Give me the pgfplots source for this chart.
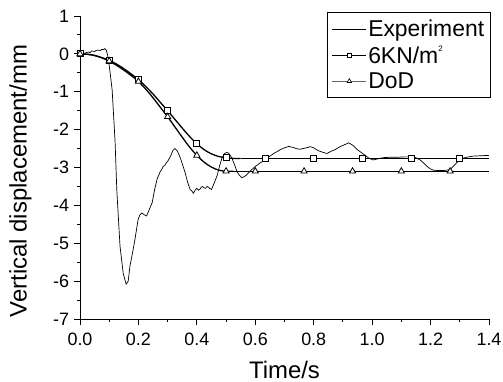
\documentclass[border=0pt]{standalone}
\usepackage{pgfplots}
\pgfplotsset{compat=1.18}
\usepackage{fontspec}
\setmainfont{Liberation Sans}
\begin{document}
\begin{tikzpicture}
\begin{axis}[
  scale only axis,
  width=409bp, height=303bp,
  at={(0,0)}, anchor=south west,
  xmin=0, xmax=1.4, ymin=-7, ymax=1,
  axis x line*=bottom, axis y line*=left,
  axis line style={line width=0.9bp, -},
  tick align=outside,
  major tick length=5.5bp, minor tick length=3bp,
  tick style={line width=0.9bp, black},
  xtick={0,0.2,...,1.4}, minor x tick num=1,
  ytick={-7,-6,...,1}, minor y tick num=1,
  /pgf/number format/assume math mode=true,
  xticklabel style={/pgf/number format/fixed, /pgf/number format/precision=1, /pgf/number format/fixed zerofill, yshift=-5bp},
  yticklabel style={xshift=-2bp},
  ticklabel style={font=\fontsize{18}{20}\selectfont},
  xlabel={Time/s}, ylabel={Vertical displacement/mm},
  label style={font=\fontsize{24}{28}\selectfont},
  xlabel style={at={(axis description cs:0.5,-0.195)}, anchor=base, inner sep=0pt},
  ylabel style={at={(axis description cs:-0.1455,0.455)}, anchor=center, inner sep=0pt},
  legend image code/.code={\draw[mark repeat=2,mark phase=2,#1] plot coordinates {(0bp,0bp) (17bp,0bp) (34bp,0bp)};},
  legend style={at={(axis description cs:1.005,1.013)}, anchor=north east,
    draw=black, line width=0.8bp, inner xsep=5bp, inner ysep=6bp,
    font=\fontsize{23}{26}\selectfont, row sep=5bp,
    nodes={inner sep=1.5bp}},
  legend cell align=left,
]
% Experiment
\addplot[black, line width=0.7bp, forget plot] coordinates {
(0,0.02) (0.01,0.0) (0.02,0.03) (0.03,0.05) (0.035,0.03) (0.04,0.08) (0.05,0.06) (0.055,0.09) (0.06,0.10) (0.07,0.09) (0.075,0.12) (0.08,0.11) (0.085,0.14) (0.09,0.10)
(0.095,-0.05) (0.10,-0.3) (0.11,-0.95) (0.12,-2.3) (0.126,-3.6) (0.137,-5.08) (0.148,-5.8) (0.158,-6.08) (0.165,-6.0) (0.171,-5.6)
(0.18,-5.25) (0.188,-4.9) (0.199,-4.37) (0.205,-4.25) (0.212,-4.2) (0.22,-4.25) (0.228,-4.28) (0.235,-4.15) (0.247,-3.93)
(0.255,-3.6) (0.264,-3.3) (0.27,-3.2) (0.275,-3.1) (0.28,-3.05) (0.285,-2.97) (0.29,-2.95) (0.295,-2.88) (0.30,-2.84) (0.31,-2.7) (0.318,-2.55) (0.325,-2.5)
(0.333,-2.56) (0.342,-2.72) (0.35,-2.9) (0.36,-3.14) (0.368,-3.38) (0.377,-3.58) (0.383,-3.62) (0.388,-3.68) (0.394,-3.6)
(0.40,-3.55) (0.405,-3.6) (0.41,-3.58) (0.415,-3.52) (0.42,-3.5) (0.425,-3.54) (0.43,-3.55) (0.435,-3.5) (0.44,-3.52) (0.445,-3.56) (0.45,-3.58) (0.46,-3.4) (0.47,-3.2)
(0.478,-2.95) (0.486,-2.75) (0.495,-2.63) (0.503,-2.6) (0.51,-2.63) (0.52,-2.75) (0.53,-2.95) (0.537,-3.1) (0.545,-3.2)
(0.554,-3.27) (0.563,-3.24) (0.572,-3.18) (0.58,-3.12) (0.589,-3.05) (0.60,-2.97) (0.608,-2.93) (0.616,-2.88) (0.623,-2.85) (0.63,-2.8) (0.64,-2.76) (0.65,-2.7)
(0.665,-2.62) (0.675,-2.58) (0.685,-2.53) (0.70,-2.48) (0.716,-2.44) (0.723,-2.46) (0.73,-2.47) (0.74,-2.5) (0.753,-2.52) (0.762,-2.5) (0.77,-2.49)
(0.78,-2.47) (0.788,-2.45) (0.80,-2.48) (0.81,-2.53) (0.82,-2.57) (0.832,-2.6) (0.845,-2.63) (0.86,-2.57) (0.875,-2.52)
(0.89,-2.45) (0.905,-2.4) (0.92,-2.35) (0.935,-2.42) (0.948,-2.52) (0.962,-2.6) (0.976,-2.68) (0.99,-2.76) (1.004,-2.8)
(1.02,-2.77) (1.038,-2.74) (1.06,-2.73) (1.085,-2.73) (1.11,-2.72) (1.141,-2.72) (1.152,-2.75) (1.164,-2.8) (1.176,-2.88)
(1.188,-2.97) (1.2,-3.04) (1.21,-3.07) (1.225,-3.08) (1.243,-3.08) (1.255,-3.07) (1.267,-3.05) (1.278,-2.97) (1.29,-2.87)
(1.30,-2.8) (1.313,-2.75) (1.33,-2.72) (1.346,-2.7) (1.37,-2.69) (1.40,-2.68)
};
% 6KN/m2 curve
\addplot[black, line width=1.3bp, smooth, forget plot] coordinates {
(0,0) (0.025,-0.01) (0.05,-0.04) (0.075,-0.10) (0.1,-0.17) (0.125,-0.27) (0.15,-0.39) (0.175,-0.53) (0.2,-0.68)
(0.225,-0.86) (0.25,-1.06) (0.275,-1.28) (0.3,-1.50) (0.325,-1.73) (0.35,-1.96) (0.375,-2.18) (0.4,-2.37)
(0.425,-2.53) (0.45,-2.64) (0.475,-2.71) (0.5,-2.745) (0.525,-2.76) (0.55,-2.76)
};
\addplot[black, line width=1.3bp, forget plot] coordinates {(0.55,-2.76) (1.4,-2.76)};
% DoD curve
\addplot[black, line width=1.3bp, smooth, forget plot] coordinates {
(0,0) (0.025,-0.01) (0.05,-0.045) (0.075,-0.105) (0.1,-0.19) (0.125,-0.30) (0.15,-0.43) (0.175,-0.57) (0.2,-0.73)
(0.225,-0.93) (0.25,-1.16) (0.275,-1.41) (0.3,-1.66) (0.325,-1.93) (0.35,-2.20) (0.375,-2.46) (0.4,-2.68)
(0.425,-2.86) (0.45,-2.99) (0.475,-3.07) (0.5,-3.10) (0.525,-3.10)
};
\addplot[black, line width=1.3bp, forget plot] coordinates {(0.525,-3.10) (1.4,-3.10)};
% markers
\addplot[only marks, mark=square*, mark size=3bp, mark options={fill=white, draw=black, line width=0.8bp}, forget plot] coordinates {
(0,0) (0.1,-0.17) (0.2,-0.68) (0.3,-1.50) (0.4,-2.37) (0.5,-2.745) (0.633,-2.76) (0.8,-2.76) (0.967,-2.76) (1.133,-2.76) (1.3,-2.76)
};
\addplot[only marks, mark=triangle*, mark size=3.6bp, mark options={fill=white, draw=black, line width=0.8bp}, forget plot] coordinates {
(0,0) (0.1,-0.19) (0.2,-0.73) (0.3,-1.66) (0.4,-2.68) (0.5,-3.10) (0.6,-3.10) (0.767,-3.10) (0.933,-3.10) (1.1,-3.10) (1.267,-3.10)
};
\addlegendimage{black, line width=0.7bp}
\addlegendentry{Experiment}
\addlegendimage{black, line width=0.8bp, mark=square*, mark size=2bp, mark options={fill=white, line width=0.6bp}}
\addlegendentry{6KN/m\raisebox{0.5em}{\fontsize{8}{8}\selectfont 2}}
\addlegendimage{black!60, line width=0.8bp, mark=triangle*, mark size=2.6bp, mark options={fill=white, draw=black, line width=0.6bp}}
\addlegendentry{DoD}
\end{axis}
\pgfresetboundingbox
\path[use as bounding box] (-80bp,-63bp) rectangle (423bp,319bp);
\end{tikzpicture}
\end{document}
